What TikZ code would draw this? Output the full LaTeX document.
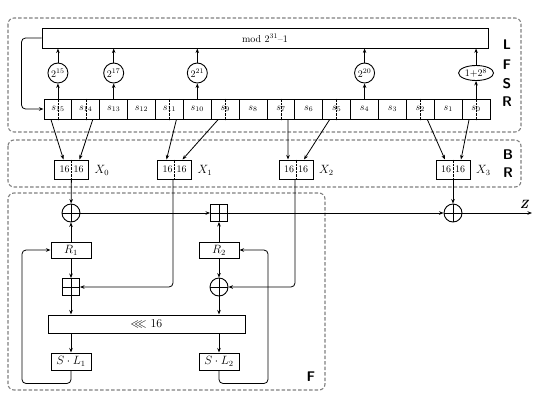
\documentclass[tikz,border=0pt]{standalone}
\usepackage{amssymb}
\usetikzlibrary{positioning}
\usetikzlibrary{arrows.meta,shapes.geometric}
\usetikzlibrary{calc}
\tikzstyle{cell}=[rectangle,draw,line width=1pt,minimum width=27.875pt,minimum height=20pt,inner sep=0pt]
\tikzstyle{mult}=[circle,draw,line width=0.9pt,minimum size=20pt,inner sep=0pt]
\tikzstyle{regbox}=[rectangle,draw,line width=1pt,minimum width=40pt,minimum height=16pt,inner sep=0pt]
\tikzstyle{halfbox}=[rectangle,draw,line width=1pt,minimum width=34pt,minimum height=19pt,inner sep=0pt]
\tikzstyle{xorop}=[circle,draw,line width=0.9pt,minimum size=18pt,inner sep=0pt,
  path picture={\draw (path picture bounding box.north) -- (path picture bounding box.south)
                      (path picture bounding box.west) -- (path picture bounding box.east);}]
\tikzstyle{addop}=[rectangle,draw,line width=0.9pt,minimum size=17pt,inner sep=0pt,
  path picture={\draw (path picture bounding box.north) -- (path picture bounding box.south)
                      (path picture bounding box.west) -- (path picture bounding box.east);}]
\tikzstyle{region}=[draw=black!50,line width=1.1pt,dash pattern=on 3.5pt off 2pt,rounded corners=6pt]
\tikzstyle{tag}=[font=\fontsize{14}{14}\sffamily\bfseries,inner sep=0pt]
\tikzstyle{edge}=[draw,line width=0.8pt,-{Stealth[length=4.5pt,width=3.5pt]}]

\begin{document}
\begin{tikzpicture}[x=1pt,y=-1pt]
  \useasboundingbox (0,0) rectangle (540,400);

  \draw[region] (8,18) rectangle (521,132);
  \draw[region] (8,140) rectangle (521,187);
  \draw[region] (8,193) rectangle (325,390);

  \foreach \y/\label in {45/L, 65/F, 84/S, 102/R}
    \node[tag] at (507,\y) {\label};
  \foreach \y/\label in {155/B, 173/R}
    \node[tag] at (508,\y) {\label};
  \node[tag] at (311,377) {F};

  % LFSR
  \node[regbox, minimum width=446pt, minimum height=20pt] (mod) at (265,38) {mod $2^{31}$--1};

  \foreach \k in {0,...,15} {
    \pgfmathtruncatemacro\n{15-\k}
    \node[cell] (c\n) at (44+27.875*\k+13.94,109) {$s_{\n}$};
  }
  \foreach \n in {15,14,11,9,7,5,2,0}
    \draw[densely dotted] (c\n.north) -- (c\n.south);

  \foreach \n/\name/\label in {15/m15/2^{15}, 13/m17/2^{17}, 10/m21/2^{21}, 4/m20/2^{20}}
    \node[mult] (\name) at (c\n |- 0,73) {$\label$};
  \node[ellipse,draw,line width=0.9pt,minimum width=35pt,minimum height=15pt,inner sep=0pt] (m8) at (c0 |- 0,73) {$1{+}2^{8}$};

  \foreach \source/\dest in {c15/m15, c13/m17, c10/m21, c4/m20, c0/m8} {
    \draw[edge] (\source.north) -- (\dest);
    \draw[edge] (\dest) -- (mod.south -| \dest);
  }
  \draw[edge, rounded corners=4pt] (mod.west) -- ++(-20,0) |- (c15.west);

  % BR
  \foreach \x/\name/\label in {71.5/x0/X_0, 174.5/x1/X_1, 296/x2/X_2, 453/x3/X_3} {
    \node[halfbox] (\name) at (\x,169.5) {16\kern4pt16};
    \draw[densely dotted] (\name.north) -- (\name.south);
    \node[right=2pt of \name, yshift=-1pt, font=\large] {$\label$};
  }
  \foreach \source/\sh/\dest/\dh in {c15/-7/x0/-8, c14/7/x0/8, c11/7/x1/-8, c9/-7/x1/8,
                                     c7/7/x2/-8, c5/-7/x2/8, c2/7/x3/-8, c0/-7/x3/8}
    \draw[edge] ([xshift=\sh pt]\source.south) -- ([xshift=\dh pt]\dest.north);

  % F
  \node[xorop] (xor1) at (71,213) {};
  \node[addop] (add2) at (219,213) {};
  \node[xorop] (xor3) at (453,213) {};
  \coordinate (zout) at (532,213);
  \node[font=\large\bfseries\itshape, above left=1pt and 0pt of zout] {Z};

  \node[regbox, font=\large] (r1) at (71,250) {$R_1$};
  \node[regbox, font=\large] (r2) at (219,250) {$R_2$};
  \node[addop] (add1) at (71,287) {};
  \node[xorop] (xor2) at (219,287) {};
  \node[regbox, minimum width=197pt, minimum height=18pt, font=\large] (rot) at (146.5,324) {$\lll$ 16};
  \node[regbox, minimum height=17pt, font=\large] (sl1) at (71,361.5) {$S\cdot L_1$};
  \node[regbox, minimum height=17pt, font=\large] (sl2) at (219,361.5) {$S\cdot L_2$};

  \draw[edge] (x0) -- (xor1);
  \draw[edge] (r1) -- (xor1);
  \draw[edge] (xor1) -- (add2);
  \draw[edge] (add2) -- (xor3);
  \draw[edge] (xor3) -- (zout);
  \draw[edge] (x3) -- (xor3);
  \draw[edge] (r2) -- (add2);
  \draw[edge] (r1) -- (add1);
  \draw[edge] (r2) -- (xor2);
  \draw[edge] (add1) -- (add1 |- rot.north);
  \draw[edge] (xor2) -- (xor2 |- rot.north);
  \draw[edge] (rot.south -| sl1) -- (sl1);
  \draw[edge] (rot.south -| sl2) -- (sl2);
  \draw[edge, rounded corners=4pt] ([xshift=-1.5pt]x1.south) |- (add1.east);
  \draw[edge, rounded corners=4pt] ([xshift=-1pt]x2.south) |- (xor2.east);
  \draw[edge, rounded corners=4pt] (sl1.south) |- ++(-49,13) |- (r1.west);
  \draw[edge, rounded corners=4pt] (sl2.south) |- ++(49,13) |- (r2.east);
\end{tikzpicture}
\end{document}
